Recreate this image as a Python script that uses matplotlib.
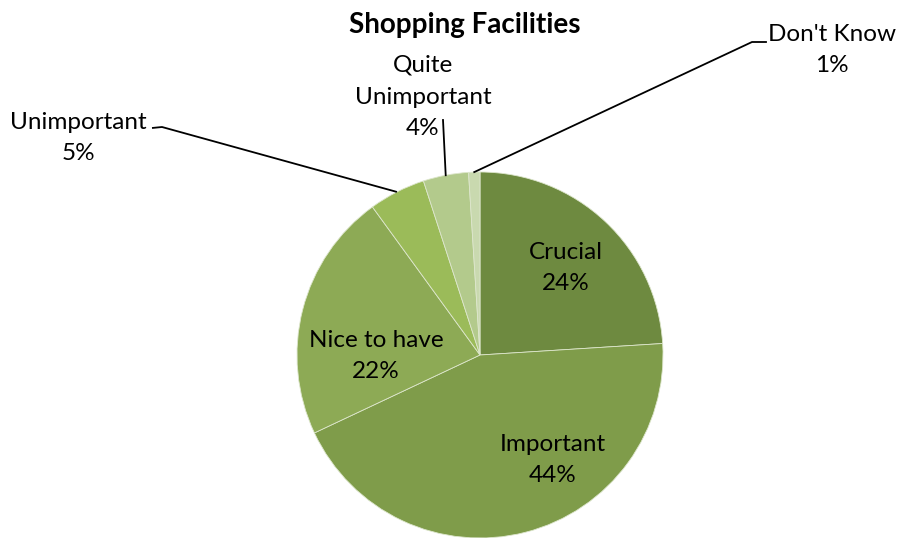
import matplotlib
matplotlib.use("Agg")
import matplotlib.pyplot as plt
import numpy as np

plt.rcParams['font.family'] = ['Lato', 'DejaVu Sans']

categories = ["Crucial", "Important", "Nice to have", "Unimportant",
              "Quite\nUnimportant", "Don't Know"]
values = [24, 44, 22, 5, 4, 1]
colors = ["#6E8A40", "#7F9C4A", "#8DAA55", "#9BBB59", "#B3CA8C", "#C9D9AF"]
title = "Shopping Facilities"

W, H = 898, 538
fig = plt.figure(figsize=(W / 100, H / 100), dpi=100)
ax = fig.add_axes([0, 0, 1, 1])

cx, cy, R = 480, 183, 183
wedges, _ = ax.pie(values, colors=colors, startangle=90, counterclock=False,
                   center=(cx, cy), radius=R, frame=True,
                   wedgeprops=dict(edgecolor="#DDE6CC", linewidth=0.6))
ax.set_xlim(0, W)
ax.set_ylim(0, H)
ax.set_aspect("equal")
ax.axis("off")

fs = 17.5
ls = 1.62

def wedge_point(i, frac=1.0):
    w = wedges[i]
    ang = np.deg2rad((w.theta1 + w.theta2) / 2)
    return cx + frac * R * np.cos(ang), cy + frac * R * np.sin(ang)

def label(i):
    return f"{categories[i]}\n{values[i]}%"

# labels inside the larger slices
inside_pos = {0: (566, 270), 1: (553, 78), 2: (376, 182)}
for i, (x, y) in inside_pos.items():
    ax.text(x, y, label(i), ha="center", va="center", fontsize=fs,
            linespacing=ls, color="black")

# labels outside with leader lines
lw = 1.3
# Unimportant
ax.text(78, 400, label(3), ha="center", va="center", fontsize=fs,
        linespacing=ls)
px, py = wedge_point(3)
ax.plot([152, 162, px], [410, 411, py], color="black", lw=lw,
        solid_capstyle="butt")
# Quite Unimportant
ax.text(423, 441, label(4), ha="center", va="center", fontsize=fs,
        linespacing=ls)
px, py = wedge_point(4)
ax.plot([443, px], [418, py], color="black", lw=lw)
# Don't Know
ax.text(832, 488, label(5), ha="center", va="center", fontsize=fs,
        linespacing=ls)
px, py = wedge_point(5)
ax.plot([766, 752, px], [496, 496, py], color="black", lw=lw)

ax.text(465, 513, title, ha="center", va="center", fontsize=20,
        fontweight="bold")

fig.savefig("out.png", dpi=100)
